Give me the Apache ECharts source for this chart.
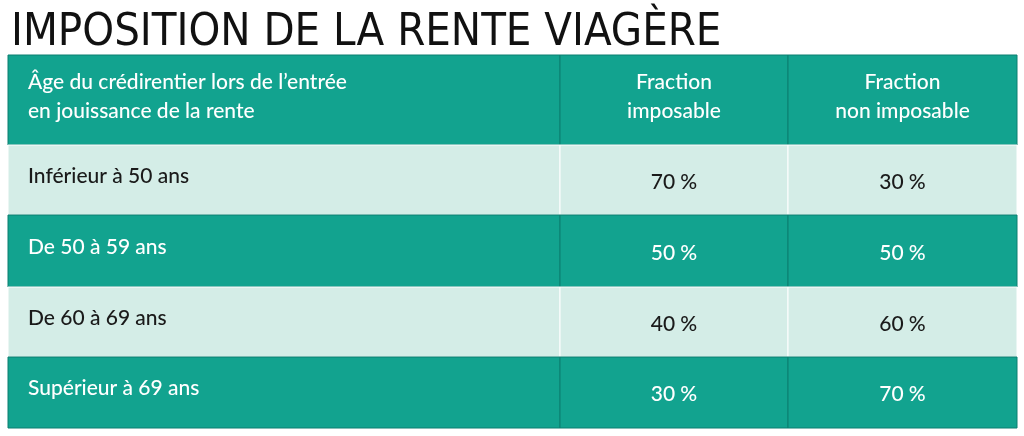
<!DOCTYPE html>
<html>
<head>
<meta charset="utf-8">
<script src="https://cdn.jsdelivr.net/npm/echarts@6/dist/echarts.min.js"></script>
<style>
  html, body { margin: 0; padding: 0; background: #fff; }
  #main { width: 1024px; height: 436px; }
</style>
</head>
<body>
<div id="main"></div>
<script>
// contenu du tableau
var titre = 'IMPOSITION DE LA RENTE VIAGÈRE';
var entetes = ['Âge du crédirentier lors de l\u2019entrée\nen jouissance de la rente', 'Fraction\nimposable', 'Fraction\nnon imposable'];
var ages = ['Inférieur à 50 ans', 'De 50 à 59 ans', 'De 60 à 69 ans', 'Supérieur à 69 ans'];
var imposable = ['70 %', '50 %', '40 %', '30 %'];
var nonImposable = ['30 %', '50 %', '60 %', '70 %'];

// mise en page (bords des colonnes / lignes en unités d'axe)
var colEdges = [0, 552, 780, 1009];
var rowEdges = [0, 90, 160, 232, 302, 373];
var TEAL = '#12a38f';
var LIGHT = '#d4ede7';

var cells = [];
for (var c = 0; c < 3; c++) cells.push([c, 0, entetes[c]]);
for (var r = 0; r < ages.length; r++) {
    cells.push([0, r + 1, ages[r]]);
    cells.push([1, r + 1, imposable[r]]);
    cells.push([2, r + 1, nonImposable[r]]);
}

var myChart = echarts.init(document.getElementById('main'));
var option = {
    animation: false,
    title: {
        text: titre, left: 6, top: 6,
        textStyle: { fontFamily: 'DejaVu Sans Condensed', fontWeight: 'normal', fontSize: 45, color: '#111' }
    },
    grid: { left: 8, right: 7, top: 55, bottom: 8 },
    xAxis: { type: 'value', min: 0, max: 1009, show: false },
    yAxis: { type: 'value', min: 0, max: 373, inverse: true, show: false },
    series: [{
        type: 'custom',
        data: cells,
        renderItem: function (params, api) {
            var col = api.value(0), row = api.value(1);
            var p0 = api.coord([colEdges[col], rowEdges[row]]);
            var p1 = api.coord([colEdges[col + 1], rowEdges[row + 1]]);
            var teal = row === 0 || row % 2 === 0;
            var txt = cells[params.dataIndex][2];
            var first = col === 0;
            return {
                type: 'group',
                children: [{
                    type: 'rect',
                    shape: { x: p0[0], y: p0[1], width: p1[0] - p0[0], height: p1[1] - p0[1] },
                    style: { fill: teal ? TEAL : LIGHT, stroke: teal ? '#0b7f70' : '#ffffff', lineWidth: 1 }
                }, {
                    type: 'text',
                    x: first ? p0[0] + 20 : (p0[0] + p1[0]) / 2,
                    y: row === 0 ? p0[1] + 42 : (p0[1] + p1[1]) / 2 + (first ? -4 : 2),
                    style: {
                        text: txt,
                        fill: teal ? '#ffffff' : '#1a1a1a',
                        font: '500 21px Lato, Noto Sans, sans-serif',
                        lineHeight: 29,
                        align: first ? 'left' : 'center',
                        verticalAlign: 'middle'
                    }
                }]
            };
        }
    }]
};
option && myChart.setOption(option);
</script>
</body>
</html>
